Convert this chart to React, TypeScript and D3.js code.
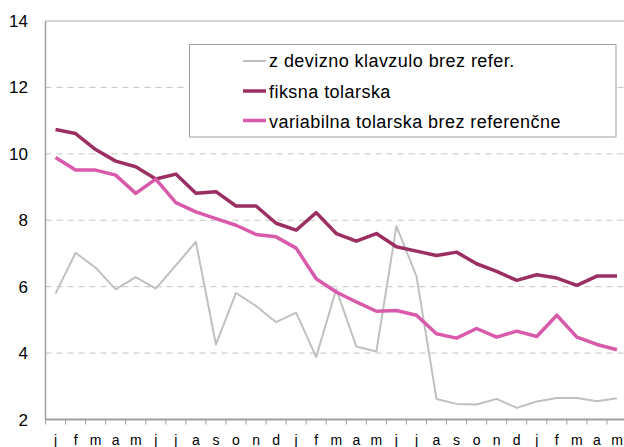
import React from "react";
import * as d3 from "d3";

const months = ["j","f","m","a","m","j","j","a","s","o","n","d","j","f","m","a","m","j","j","a","s","o","n","d","j","f","m","a","m"];
const yTicks = [2, 4, 6, 8, 10, 12, 14];
const seriesNames = ["z devizno klavzulo brez refer.", "fiksna tolarska", "variabilna tolarska brez referenčne"];
const devizna = [5.79,7.02,6.57,5.92,6.29,5.94,6.64,7.35,4.26,5.81,5.42,4.93,5.22,3.88,5.92,4.2,4.05,7.82,6.32,2.62,2.47,2.45,2.62,2.35,2.54,2.65,2.65,2.55,2.64];
const fiksna = [10.73,10.61,10.13,9.78,9.61,9.24,9.39,8.81,8.86,8.43,8.43,7.91,7.7,8.23,7.6,7.37,7.6,7.2,7.07,6.94,7.04,6.69,6.46,6.19,6.36,6.26,6.04,6.32,6.32];
const variabilna = [9.89,9.51,9.51,9.36,8.81,9.24,8.53,8.25,8.05,7.85,7.57,7.5,7.16,6.24,5.84,5.54,5.26,5.28,5.14,4.58,4.45,4.74,4.48,4.66,4.5,5.14,4.48,4.26,4.1];

const colors = ["#c0c0c0", "#9b2f62", "#d95aab"];
const widths = [2, 3.5, 3.5];

export default function App() {
  const W = 624, H = 447;
  const left = 45.5, right = 627, top = 21, bottom = 419.5;
  const x = d3.scaleBand<number>().domain(months.map((_, i) => i)).range([left, right]).padding(0);
  const bw = x.bandwidth();
  const y = d3.scaleLinear().domain([2, 14]).range([bottom, top]);
  const line = d3.line<number>().x((_, i) => (x(i) as number) + bw / 2).y(d => y(d));
  const data = [devizna, fiksna, variabilna];
  const font = "'Liberation Sans', Arial, sans-serif";
  const legendLines = [61, 91, 120.5];
  const legendBase = [66.5, 97.5, 128];
  return (
    <svg width={W} height={H} style={{ position: "absolute", left: 0, top: 0, background: "#fff" }} fontFamily={font}>
      <rect x={0} y={0} width={W} height={H} fill="#fff" />
      {yTicks.filter(t => t !== 2 && t !== 14).map(t => (
        <line key={t} x1={left} x2={right} y1={y(t)} y2={y(t)} stroke="#c4c4c4" strokeWidth={1} strokeDasharray="6,5" />
      ))}
      <line x1={left} x2={right} y1={y(14)} y2={y(14)} stroke="#b0b0b0" strokeWidth={1} />
      {yTicks.map(t => (
        <text key={t} x={28} y={y(t) + 6} textAnchor="end" fontSize={17} fill="#000">{t}</text>
      ))}
      {data.map((d, k) => (
        <path key={k} d={line(d) || ""} fill="none" stroke={colors[k]} strokeWidth={widths[k]} strokeLinejoin="round" />
      ))}
      <line x1={left} x2={left} y1={top} y2={bottom} stroke="#a0a0a0" strokeWidth={1.5} />
      <line x1={left} x2={right} y1={bottom} y2={bottom} stroke="#a0a0a0" strokeWidth={2} />
      {months.map((_, i) => (
        <line key={i} x1={x(i) as number} x2={x(i) as number} y1={bottom} y2={bottom + 5} stroke="#a0a0a0" strokeWidth={1} />
      ))}
      {months.map((m, i) => (
        <text key={i} x={(x(i) as number) + bw / 2} y={445} textAnchor="middle" fontSize={14} fill="#000">{m}</text>
      ))}
      <rect x={189.5} y={44.5} width={426.5} height={92.5} fill="#fff" stroke="#a0a0a0" strokeWidth={1} />
      {seriesNames.map((n, k) => (
        <g key={k}>
          <line x1={243} x2={266} y1={legendLines[k]} y2={legendLines[k]} stroke={colors[k]} strokeWidth={widths[k]} />
          <text x={269} y={legendBase[k]} fontSize={18} letterSpacing={0.45} fill="#000">{n}</text>
        </g>
      ))}
    </svg>
  );
}
